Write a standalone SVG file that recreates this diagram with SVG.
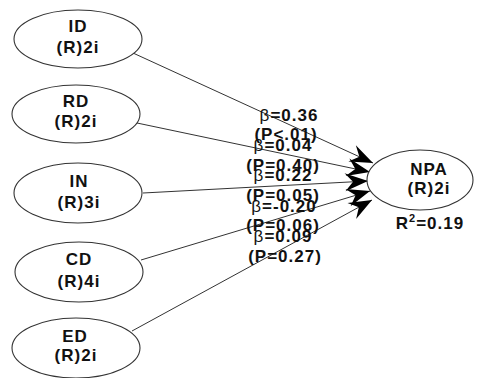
<svg xmlns="http://www.w3.org/2000/svg" width="483" height="378" viewBox="0 0 483 378">
<style>
.node ellipse{fill:#fff;stroke:#333;stroke-width:1.1}
text{font-family:"Liberation Sans",Arial,sans-serif;font-weight:bold;font-size:17px;letter-spacing:1px;fill:#111;text-anchor:middle}
.b{font-weight:normal}
.edge{stroke:#333;stroke-width:1;fill:none;marker-end:url(#ah)}
</style>
<defs>
<marker id="ah" markerUnits="userSpaceOnUse" markerWidth="30" markerHeight="20" viewBox="-24 -10 26 20" refX="0" refY="0" orient="auto">
<path d="M0,0 L-23,-9 L-15,0 L-23,9 Z" fill="#000"/>
</marker>
</defs>
<rect width="483" height="378" fill="#fff"/>
<g id="connectors">
<line class="edge" x1="133" y1="53" x2="373" y2="163"/>
<line class="edge" x1="137" y1="123" x2="370" y2="172"/>
<line class="edge" x1="143" y1="193" x2="368" y2="181"/>
<line class="edge" x1="141" y1="260" x2="370" y2="191"/>
<line class="edge" x1="132" y1="331" x2="372" y2="200"/>
</g>
<g id="ID" class="node"><ellipse cx="78" cy="39" rx="64" ry="29"/><text x="78" y="32">ID</text><text x="78" y="53">(R)2i</text></g>
<g id="RD" class="node"><ellipse cx="76" cy="114" rx="64" ry="29"/><text x="76" y="107">RD</text><text x="76" y="127">(R)2i</text></g>
<g id="IN" class="node"><ellipse cx="78" cy="193" rx="64" ry="30"/><text x="79" y="187">IN</text><text x="79" y="208">(R)3i</text></g>
<g id="CD" class="node"><ellipse cx="79" cy="272" rx="64" ry="30"/><text x="79" y="265">CD</text><text x="79" y="287">(R)4i</text></g>
<g id="ED" class="node"><ellipse cx="76" cy="348" rx="64" ry="30"/><text x="75" y="342">ED</text><text x="76" y="361">(R)2i</text></g>
<g id="NPA" class="node"><ellipse cx="420" cy="180" rx="53" ry="30"/><text x="429" y="175">NPA</text><text x="429" y="194">(R)2i</text><text x="430" y="229">R<tspan font-size="11" dy="-7">2</tspan><tspan dy="7">=0.19</tspan></text></g>
<g id="labels">
<text x="289" y="121"><tspan class="b">β</tspan>=0.36</text>
<text x="286" y="140">(P&lt;.01)</text>
<text x="283" y="151"><tspan class="b">β</tspan>=0.04</text>
<text x="283" y="171">(P=0.40)</text>
<text x="283" y="181"><tspan class="b">β</tspan>=0.22</text>
<text x="283" y="201">(P=0.05)</text>
<text x="284" y="212"><tspan class="b">β</tspan>=-0.20</text>
<text x="283" y="231">(P=0.06)</text>
<text x="283" y="242"><tspan class="b">β</tspan>=0.09</text>
<text x="285" y="262">(P=0.27)</text>
</g>
</svg>
